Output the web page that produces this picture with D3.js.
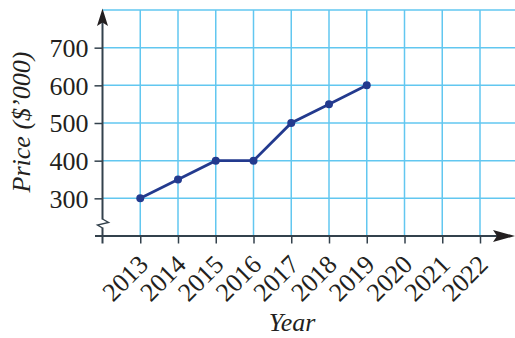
<!DOCTYPE html>
<html><head><meta charset="utf-8">
<script src="https://cdn.jsdelivr.net/npm/d3@7"></script>
<style>
html,body{margin:0;padding:0;background:#fff;}
svg{display:block;}
text{font-family:"Liberation Serif","Times New Roman",serif;fill:#231f20;}
</style></head><body>
<svg id="c" width="515" height="338"></svg>
<script>
const years = [2013, 2014, 2015, 2016, 2017, 2018, 2019];
const prices = [300, 350, 400, 400, 500, 550, 600];
const xTickYears = [2013, 2014, 2015, 2016, 2017, 2018, 2019, 2020, 2021, 2022];
const yTickValues = [300, 400, 500, 600, 700];
const yGridValues = [300, 400, 500, 600, 700, 800];
const xTitle = "Year";
const yTitle = "Price ($\u2019000)";

const svg = d3.select("#c");
const x = d3.scaleLinear().domain([2012, 2022]).range([102.5, 480]);
const y = d3.scaleLinear().domain([200, 800]).range([236, 10]);
const gridColor = "#62c7f0";
const axisColor = "#33414c";
const lineColor = "#233a8e";
const fs = 26;
const x0 = x(2012), y0 = y(200);

// grid
svg.append("g").selectAll("line").data(xTickYears).join("line")
  .attr("x1", d => x(d)).attr("x2", d => x(d))
  .attr("y1", y0).attr("y2", y(800))
  .attr("stroke", gridColor).attr("stroke-width", 1.5);
svg.append("g").selectAll("line").data(yGridValues).join("line")
  .attr("x1", x0).attr("x2", 515)
  .attr("y1", d => y(d)).attr("y2", d => y(d))
  .attr("stroke", gridColor).attr("stroke-width", 1.5);

// y axis
const yAxis = d3.axisLeft(y).tickValues(yTickValues).tickSize(8).tickPadding(6).tickFormat(d3.format("d"));
const gy = svg.append("g").attr("transform", `translate(${x0},0)`).call(yAxis);
gy.select(".domain").remove();
gy.selectAll(".tick line").attr("stroke", axisColor).attr("stroke-width", 1.5);
gy.selectAll(".tick text").attr("font-size", fs).attr("dy", "0.34em").attr("fill", "#231f20");
svg.append("line").attr("x1", x0).attr("x2", x0).attr("y1", 219.5).attr("y2", 22)
  .attr("stroke", axisColor).attr("stroke-width", 2);
svg.append("line").attr("x1", x0).attr("x2", x0).attr("y1", y0 + 7.5).attr("y2", 227.5)
  .attr("stroke", axisColor).attr("stroke-width", 2);
svg.append("path").attr("d", `M${x0},8.5 L${x0-5.5},26 L${x0},22.5 L${x0+5.5},26 Z`).attr("fill", "#231f20");
// break symbol
svg.append("path").attr("d", `M${x0},219 L${x0+6},222.5 L${x0-5},225 L${x0},228`)
  .attr("fill", "none").attr("stroke", axisColor).attr("stroke-width", 1.4).attr("stroke-linejoin", "miter");

// x axis
const xAxis = d3.axisBottom(x).tickValues(xTickYears).tickSize(7.5).tickPadding(4).tickFormat(d3.format("d"));
const gx = svg.append("g").attr("transform", `translate(0,${y0})`).call(xAxis);
gx.select(".domain").remove();
gx.selectAll(".tick line").attr("stroke", axisColor).attr("stroke-width", 1.5);
gx.selectAll(".tick text").attr("font-size", fs).attr("fill", "#231f20")
  .attr("text-anchor", "end").attr("dy", 0).attr("y", 0)
  .attr("transform", "translate(9,30) rotate(-45)");
svg.append("line").attr("x1", 95).attr("x2", 500).attr("y1", y0).attr("y2", y0)
  .attr("stroke", axisColor).attr("stroke-width", 2);
svg.append("path").attr("d", `M515,${y0} L493,${y0-6} L497,${y0} L493,${y0+6} Z`).attr("fill", "#231f20");

// data line
const data = years.map((d, i) => ({year: d, price: prices[i]}));
svg.append("path").datum(data)
  .attr("d", d3.line().x(d => x(d.year)).y(d => y(d.price)))
  .attr("fill", "none").attr("stroke", lineColor).attr("stroke-width", 2.8);
svg.append("g").selectAll("circle").data(data).join("circle")
  .attr("cx", d => x(d.year)).attr("cy", d => y(d.price)).attr("r", 4)
  .attr("fill", lineColor);

// titles
svg.append("text").attr("x", 292).attr("y", 331).attr("text-anchor", "middle")
  .attr("font-size", fs).attr("font-style", "italic").text(xTitle);
svg.append("text").attr("transform", "translate(30,122) rotate(-90)").attr("text-anchor", "middle")
  .attr("font-size", fs).attr("font-style", "italic").text(yTitle);
</script>
</body></html>
